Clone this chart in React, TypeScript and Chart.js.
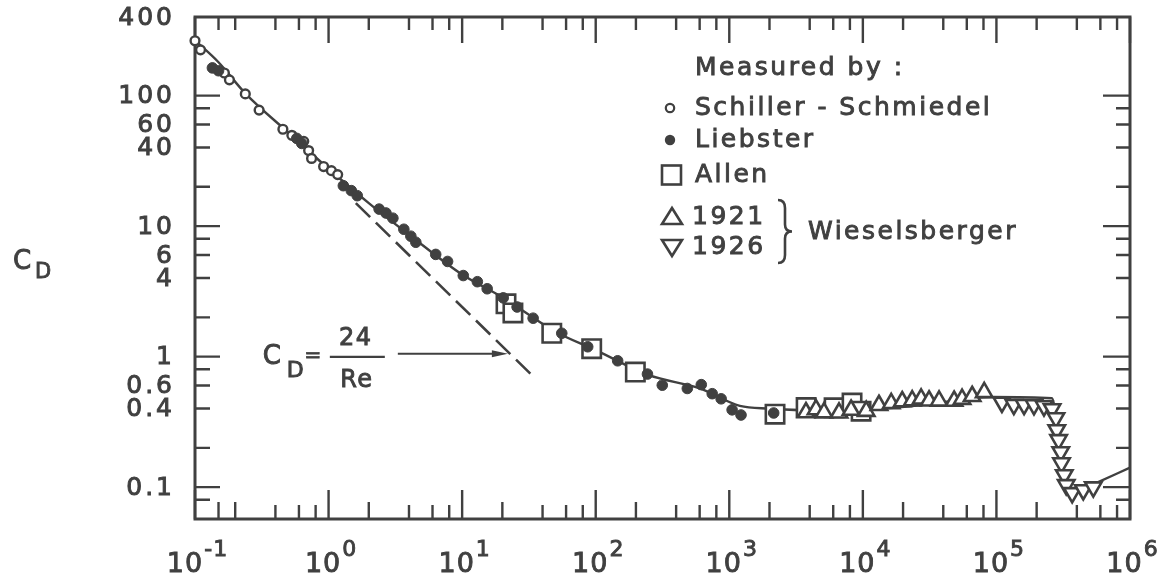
import React, { useEffect, useRef } from "react";
import { Chart, registerables } from "chart.js";

Chart.register(...registerables);

// ---------------- data (Reynolds number Re, drag coefficient C_D) ----------------
const curveRe = [0.1, 0.15, 0.24, 0.5, 1, 2, 4, 10, 20, 50, 100, 250, 600, 1200, 2000, 5000, 10000, 30000, 92000, 260000, 290000, 320000, 360000, 530000, 1000000];
const curveCd = [265, 180, 103, 52, 27.5, 15, 8.6, 4.25, 2.85, 1.55, 1.12, 0.72, 0.57, 0.42, 0.40, 0.385, 0.39, 0.43, 0.49, 0.48, 0.26, 0.13, 0.088, 0.105, 0.141];

const stokesRe = [1.6, 33];
const stokesCd = [15.0, 0.727];

const schillerRe = [0.1, 0.11, 0.166, 0.181, 0.238, 0.302, 0.455, 0.531, 0.652, 0.709, 0.746, 0.918, 1.05, 1.17];
const schillerCd = [263, 224, 149, 132, 103, 77.4, 55.2, 49.6, 44.6, 37.9, 33.0, 28.6, 26.6, 24.8];

const liebsterRe = [0.135, 0.15, 0.578, 0.63, 1.29, 1.48, 1.64, 2.39, 2.69, 3.03, 3.66, 4.13, 4.5, 6.34, 7.78, 10.2, 13.0, 15.4, 20.3, 25.8, 34.0, 55.7, 87.1, 146, 244, 315, 485, 617, 745, 869, 1050, 1224, 2150];
const liebsterCd = [163, 155, 47.0, 43.0, 20.4, 18.7, 17.1, 13.5, 12.6, 11.5, 9.46, 8.37, 7.52, 6.07, 5.36, 4.18, 3.75, 3.31, 2.82, 2.4, 1.97, 1.51, 1.19, 0.929, 0.735, 0.604, 0.57, 0.61, 0.52, 0.475, 0.391, 0.357, 0.37];

const allenRe = [21.3, 24.0, 46.9, 93.3, 198, 2200, 3760, 6090, 8300, 9700];
const allenCd = [2.54, 2.16, 1.51, 1.15, 0.762, 0.362, 0.407, 0.405, 0.441, 0.382];

const w1921Re = [3750, 4460, 5120, 6630, 8160, 10600, 13200, 16300, 19700, 23400, 27300, 31300, 37200, 48200, 55300, 65800, 81000];
const w1921Cd = [0.373, 0.393, 0.372, 0.371, 0.39, 0.382, 0.424, 0.438, 0.453, 0.46, 0.475, 0.459, 0.458, 0.457, 0.472, 0.497, 0.532];

const w1926Re = [110000, 135000, 161000, 191000, 227000, 261000, 279000, 283000, 292000, 303000, 307000, 322000, 333000, 369000, 447000, 531000];
const w1926Cd = [0.445, 0.429, 0.428, 0.427, 0.418, 0.397, 0.339, 0.274, 0.23, 0.186, 0.153, 0.124, 0.104, 0.0904, 0.0951, 0.1];

// axis ticks and labels
const reMajorTicks = [0.1, 1, 10, 100, 1000, 10000, 100000, 1000000];
const reExponents = ["-1", "0", "1", "2", "3", "4", "5", "6"];
const reMinorTicks = [0.15, 0.2, 0.4, 0.6, 0.8, 2, 4, 6, 8, 20, 40, 60, 80, 200, 400, 600, 800, 2000, 4000, 6000, 8000, 20000, 40000, 60000, 80000, 200000, 400000, 600000, 800000];
const cdMajorTicks = [0.1, 1, 10, 100];
const cdMinorTicks = [0.08, 0.2, 0.4, 0.6, 0.8, 2, 4, 6, 8, 20, 40, 60, 80];
const cdTickLabels = [400, 100, 60, 40, 10, 6, 4, 1, 0.6, 0.4, 0.1];

// annotation: arrow pointing at C_D = 24/Re
const arrowRe = [3.3, 22];
const arrowCd = 1.05;

// legend texts
const legendTitle = "Measured by :";
const legendNames = ["Schiller - Schmiedel", "Liebster", "Allen", "1921", "1926"];
const legendGroup = "Wieselsberger";

// ---------------- styling ----------------
const INK = "#404040";
const FONT = '"DejaVu Sans", "Liberation Sans", sans-serif';

function pts(xs: number[], ys: number[]) {
  return xs.map((v, i) => ({ x: v, y: ys[i] }));
}

function text(ctx: any, s: string, x: number, y: number, size: number, align = "left", baseline = "middle", spacing = 0) {
  ctx.font = `${size}px ${FONT}`;
  ctx.letterSpacing = `${spacing}px`;
  ctx.textAlign = align;
  ctx.textBaseline = baseline;
  ctx.fillText(s, x, y);
  ctx.lineWidth = 0.9;
  ctx.strokeText(s, x, y);
}

const decorPlugin = {
  id: "decor",
  beforeDatasetsDraw(chart: any) {
    const { ctx, chartArea: a, scales } = chart;
    const x = scales.x;
    const y = scales.y;
    ctx.save();
    ctx.strokeStyle = INK;
    ctx.lineWidth = 2.4;
    ctx.beginPath();
    const vt = (p: number, y0: number, len: number) => { ctx.moveTo(p, y0); ctx.lineTo(p, y0 + len); };
    const ht = (p: number, x0: number, len: number) => { ctx.moveTo(x0, p); ctx.lineTo(x0 + len, p); };
    for (const v of reMajorTicks) {
      const p = x.getPixelForValue(v);
      vt(p, a.bottom, -29);
      vt(p, a.top, 26);
    }
    for (const v of reMinorTicks) {
      const p = x.getPixelForValue(v);
      const m = Math.round(v / Math.pow(10, Math.floor(Math.log10(v) + 1e-9)));
      vt(p, a.bottom, m <= 2 ? -17 : -14);
      vt(p, a.top, 13);
    }
    for (const v of cdMajorTicks) {
      const p = y.getPixelForValue(v);
      ht(p, a.left, 25);
      ht(p, a.right, -27);
    }
    for (const v of cdMinorTicks) {
      const p = y.getPixelForValue(v);
      ht(p, a.left, 15);
      ht(p, a.right, -14);
    }
    ctx.stroke();
    ctx.lineWidth = 3;
    ctx.strokeRect(a.left, a.top, a.right - a.left, a.bottom - a.top);
    ctx.restore();
  },
  afterDraw(chart: any) {
    const { ctx, chartArea: a, scales } = chart;
    const x = scales.x;
    const y = scales.y;
    ctx.save();
    ctx.fillStyle = INK;
    ctx.strokeStyle = INK;

    // y tick labels
    for (const v of cdTickLabels) {
      text(ctx, String(v), a.left - 20, y.getPixelForValue(v) + 1, 25, "right", "middle", 3);
    }
    // x tick labels 10^n
    reMajorTicks.forEach((v, i) => {
      const p = x.getPixelForValue(v);
      ctx.font = `27px ${FONT}`;
      ctx.letterSpacing = "1px";
      const w1 = ctx.measureText("10").width;
      ctx.font = `22px ${FONT}`;
      ctx.letterSpacing = "1px";
      const w2 = ctx.measureText(reExponents[i]).width;
      const start = p - (w1 + w2) / 2 + 2;
      text(ctx, "10", start, a.bottom + 53, 27, "left", "alphabetic", 1);
      text(ctx, reExponents[i], start + w1 + 1, a.bottom + 37, 22, "left", "alphabetic", 1);
    });
    // axis title C_D
    text(ctx, "C", a.left - 182, a.top + 245, 26, "left", "middle", 0);
    text(ctx, "D", a.left - 160, a.top + 256, 21, "left", "middle", 0);

    // legend
    const LX = a.right - 460;
    const LY = a.top;
    text(ctx, legendTitle, LX + 25, LY + 51, 25, "left", "middle", 2.5);
    ctx.lineWidth = 2.2;
    // open circle
    ctx.beginPath();
    ctx.arc(LX, LY + 91, 4.2, 0, Math.PI * 2);
    ctx.stroke();
    text(ctx, legendNames[0], LX + 25, LY + 91, 25, "left", "middle", 2.5);
    // filled dot
    ctx.beginPath();
    ctx.arc(LX, LY + 123, 5.2, 0, Math.PI * 2);
    ctx.fill();
    text(ctx, legendNames[1], LX + 25, LY + 123, 25, "left", "middle", 2.5);
    // square
    ctx.lineWidth = 2.6;
    ctx.strokeRect(LX - 8, LY + 158 - 9.5, 19, 19);
    text(ctx, legendNames[2], LX + 25, LY + 158, 25, "left", "middle", 2.5);
    // up triangle
    ctx.lineWidth = 2.6;
    ctx.beginPath();
    ctx.moveTo(LX + 2, LY + 200 - 9);
    ctx.lineTo(LX + 12, LY + 200 + 7);
    ctx.lineTo(LX - 8, LY + 200 + 7);
    ctx.closePath();
    ctx.stroke();
    text(ctx, legendNames[3], LX + 22, LY + 200, 25, "left", "middle", 2.5);
    // down triangle
    ctx.lineWidth = 2.6;
    ctx.beginPath();
    ctx.moveTo(LX - 8, LY + 230 - 7);
    ctx.lineTo(LX + 12, LY + 230 - 7);
    ctx.lineTo(LX + 2, LY + 230 + 9);
    ctx.closePath();
    ctx.stroke();
    text(ctx, legendNames[4], LX + 22, LY + 230, 25, "left", "middle", 2.5);
    // brace
    const bx = LX + 108;
    const y0 = LY + 183;
    const y1 = LY + 246;
    const ym = (y0 + y1) / 2;
    ctx.lineWidth = 2.6;
    ctx.beginPath();
    ctx.moveTo(bx, y0);
    ctx.quadraticCurveTo(bx + 7, y0, bx + 7, y0 + 8);
    ctx.lineTo(bx + 7, ym - 7);
    ctx.quadraticCurveTo(bx + 7, ym, bx + 14, ym);
    ctx.quadraticCurveTo(bx + 7, ym, bx + 7, ym + 7);
    ctx.lineTo(bx + 7, y1 - 8);
    ctx.quadraticCurveTo(bx + 7, y1, bx, y1);
    ctx.stroke();
    text(ctx, legendGroup, LX + 138, LY + 215, 25, "left", "middle", 2.5);

    // arrow and formula C_D = 24/Re
    const ax0 = x.getPixelForValue(arrowRe[0]);
    const ax1 = x.getPixelForValue(arrowRe[1]);
    const ay = y.getPixelForValue(arrowCd);
    ctx.lineWidth = 2;
    ctx.beginPath();
    ctx.moveTo(ax0, ay);
    ctx.lineTo(ax1 - 10, ay);
    ctx.stroke();
    ctx.beginPath();
    ctx.moveTo(ax1, ay);
    ctx.lineTo(ax1 - 16, ay - 3.5);
    ctx.lineTo(ax1 - 16, ay + 3.5);
    ctx.closePath();
    ctx.fill();

    text(ctx, "C", ax0 - 135, ay + 3, 26, "left", "middle", 0);
    text(ctx, "D", ax0 - 111, ay + 17, 22, "left", "middle", 0);
    text(ctx, "=", ax0 - 85, ay + 2, 20, "center", "middle", 0);
    ctx.lineWidth = 2.4;
    ctx.beginPath();
    ctx.moveTo(ax0 - 68, ay + 3);
    ctx.lineTo(ax0 - 13, ay + 3);
    ctx.stroke();
    text(ctx, "24", ax0 - 42, ay - 15, 24, "center", "middle", 1.5);
    text(ctx, "Re", ax0 - 41, ay + 27, 24, "center", "middle", 1.5);

    ctx.restore();
  },
};

export default function App() {
  const ref = useRef<HTMLCanvasElement | null>(null);

  useEffect(() => {
    if (!ref.current) return;
    const chart = new Chart(ref.current, {
      type: "scatter",
      data: {
        datasets: [
          {
            label: "Curve",
            data: pts(curveRe, curveCd),
            showLine: true,
            borderColor: INK,
            borderWidth: 2.4,
            pointRadius: 0,
            cubicInterpolationMode: "monotone",
            order: 10,
            clip: false,
          },
          {
            label: "24/Re",
            data: pts(stokesRe, stokesCd),
            showLine: true,
            borderColor: INK,
            borderWidth: 2.6,
            borderDash: [20, 8],
            pointRadius: 0,
            order: 9,
          },
          {
            label: "Allen",
            data: pts(allenRe, allenCd),
            pointStyle: "rect",
            pointRadius: 13,
            borderColor: INK,
            backgroundColor: "#ffffff",
            borderWidth: 2.6,
            order: 5,
            clip: false,
          },
          {
            label: "Wieselsberger 1921",
            data: pts(w1921Re, w1921Cd),
            pointStyle: "triangle",
            pointRadius: 9.5,
            borderColor: INK,
            backgroundColor: "#ffffff",
            borderWidth: 2.6,
            order: 4,
            clip: false,
          },
          {
            label: "Wieselsberger 1926",
            data: pts(w1926Re, w1926Cd),
            pointStyle: "triangle",
            pointRotation: 180,
            pointRadius: 9.5,
            borderColor: INK,
            backgroundColor: "#ffffff",
            borderWidth: 2.6,
            order: 3,
            clip: false,
          },
          {
            label: "Schiller-Schmiedel",
            data: pts(schillerRe, schillerCd),
            pointStyle: "circle",
            pointRadius: 4.4,
            borderColor: INK,
            backgroundColor: "#ffffff",
            borderWidth: 2.4,
            order: 2,
            clip: false,
          },
          {
            label: "Liebster",
            data: pts(liebsterRe, liebsterCd),
            pointStyle: "circle",
            pointRadius: 5.3,
            borderColor: INK,
            backgroundColor: INK,
            borderWidth: 1,
            order: 1,
            clip: false,
          },
        ],
      } as any,
      options: {
        responsive: false,
        animation: false,
        devicePixelRatio: 1,
        events: [],
        layout: { padding: { left: 195, right: 40, top: 17, bottom: 64 } },
        plugins: {
          legend: { display: false },
          tooltip: { enabled: false },
        },
        scales: {
          x: { type: "logarithmic", min: 0.1, max: 1000000, display: false },
          y: { type: "logarithmic", min: 0.057, max: 400, display: false },
        },
      } as any,
      plugins: [decorPlugin],
    });
    return () => chart.destroy();
  }, []);

  return (
    <div style={{ position: "fixed", left: 0, top: 0, width: 1170, height: 583, background: "#ffffff" }}>
      <canvas ref={ref} width={1170} height={583} style={{ display: "block", width: 1170, height: 583 }} />
    </div>
  );
}
